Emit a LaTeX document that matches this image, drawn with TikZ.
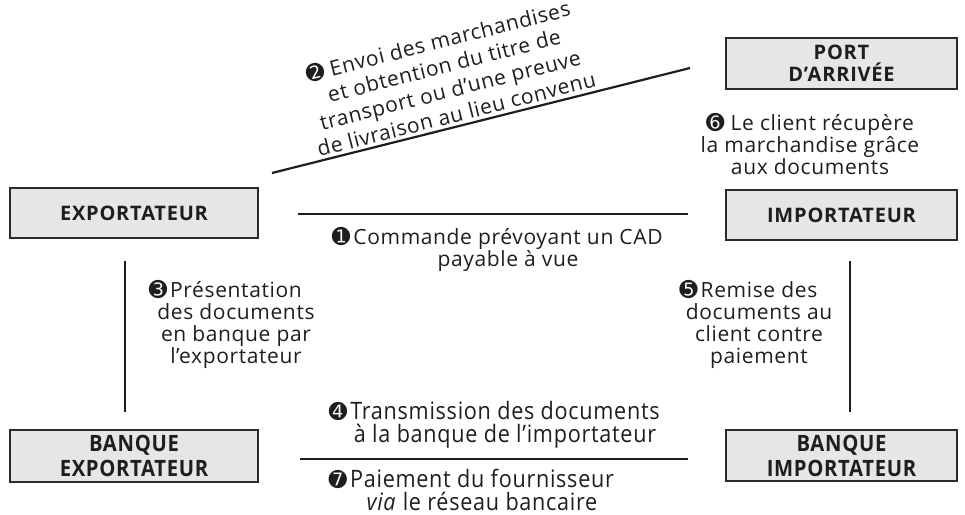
\documentclass[tikz,border=0pt]{standalone}
\usepackage{fontspec}
\setmainfont{Open Sans}[LetterSpace=3]
\newfontfamily\boxfont{Open Sans}[LetterSpace=4]
\newfontfamily\condfont{Open Sans}[FakeStretch=0.9,LetterSpace=3]
\newfontfamily\numfont{DejaVu Sans}
\definecolor{ink}{HTML}{1E1E1E}
\definecolor{boxfill}{HTML}{E6E6E6}
\definecolor{boxline}{HTML}{2A2A2A}
\newcommand{\stepnum}[1]{{\numfont\fontsize{22}{22}\selectfont #1}}
\newcommand{\hangnum}[1]{\llap{\stepnum{#1}\hspace{3pt}}}
\begin{document}
\begin{tikzpicture}[x=1pt,y=-1pt,
  actor/.style={draw=boxline, fill=boxfill, line width=2pt, inner sep=0pt,
    minimum width=230pt, minimum height=50pt, align=center, text=ink,
    font=\boxfont\bfseries\fontsize{20}{22}\selectfont},
  bankbox/.style={actor, font=\condfont\bfseries\fontsize{22.5}{25}\selectfont},
  flow/.style={draw=ink, line width=2.2pt},
  lbl/.style={align=center, text=ink, inner sep=0pt,
    font=\fontsize{21}{22}\selectfont},
  condlbl/.style={lbl, font=\condfont\fontsize{24}{23}\selectfont}]
\useasboundingbox (0,0) rectangle (965,514);

% parties
\node[actor, minimum width=248pt] (exp) at (134,213) {EXPORTATEUR};
\node[actor, minimum width=231pt] (imp) at (841.5,215) {IMPORTATEUR};
\node[actor, minimum width=231pt, minimum height=51pt] (port) at (841.5,63.5) {PORT\\D’ARRIVÉE};
\node[bankbox, minimum width=248pt, minimum height=52pt] (bexp) at (134,456) {BANQUE\\EXPORTATEUR};
\node[bankbox, minimum width=231pt, minimum height=51pt] (bimp) at (841.5,455.5) {BANQUE\\IMPORTATEUR};

% line ends
\coordinate (a1) at (298,214);  \coordinate (a2) at (688,214);
\coordinate (d1) at (272,173);  \coordinate (d2) at (690,68);
\coordinate (l1) at (125,261);  \coordinate (l2) at (125,412);
\coordinate (r1) at (850,261);  \coordinate (r2) at (850,412);
\coordinate (b1) at (300,459);  \coordinate (b2) at (688,459);

\draw[flow] (a1) -- (a2);
\draw[flow] (d1) -- (d2);
\draw[flow] (l1) -- (l2);
\draw[flow] (r1) -- (r2);
\draw[flow] (b1) -- (b2);

% steps
\node[lbl] (s1) at (508,249) {\hangnum{➊}Commande prévoyant un CAD\\payable à vue};
\node[lbl, rotate=14.2, font=\fontsize{21}{25}\selectfont] (s2) at (447,77) {\stepnum{➋} Envoi des marchandises\\et obtention du titre de\\transport ou d’une preuve\\de livraison au lieu convenu};
\node[lbl] (s3) at (236,324) {\hangnum{➌}Présentation\\des documents\\en banque par\\l’exportateur};
\node[condlbl] (s4) at (505,425) {\hangnum{➍}Transmission des documents\\à la banque de l’importateur};
\node[lbl] (s5) at (759,324) {\hangnum{➎}Remise des\\documents au\\client contre\\paiement};
\node[lbl] (s6) at (810,144) {\stepnum{➏} Le client récupère\\la marchandise grâce\\aux documents};
\node[condlbl] (s7) at (482,490) {\hangnum{➐}Paiement du fournisseur\\\textit{via} le réseau bancaire};
\end{tikzpicture}
\end{document}
